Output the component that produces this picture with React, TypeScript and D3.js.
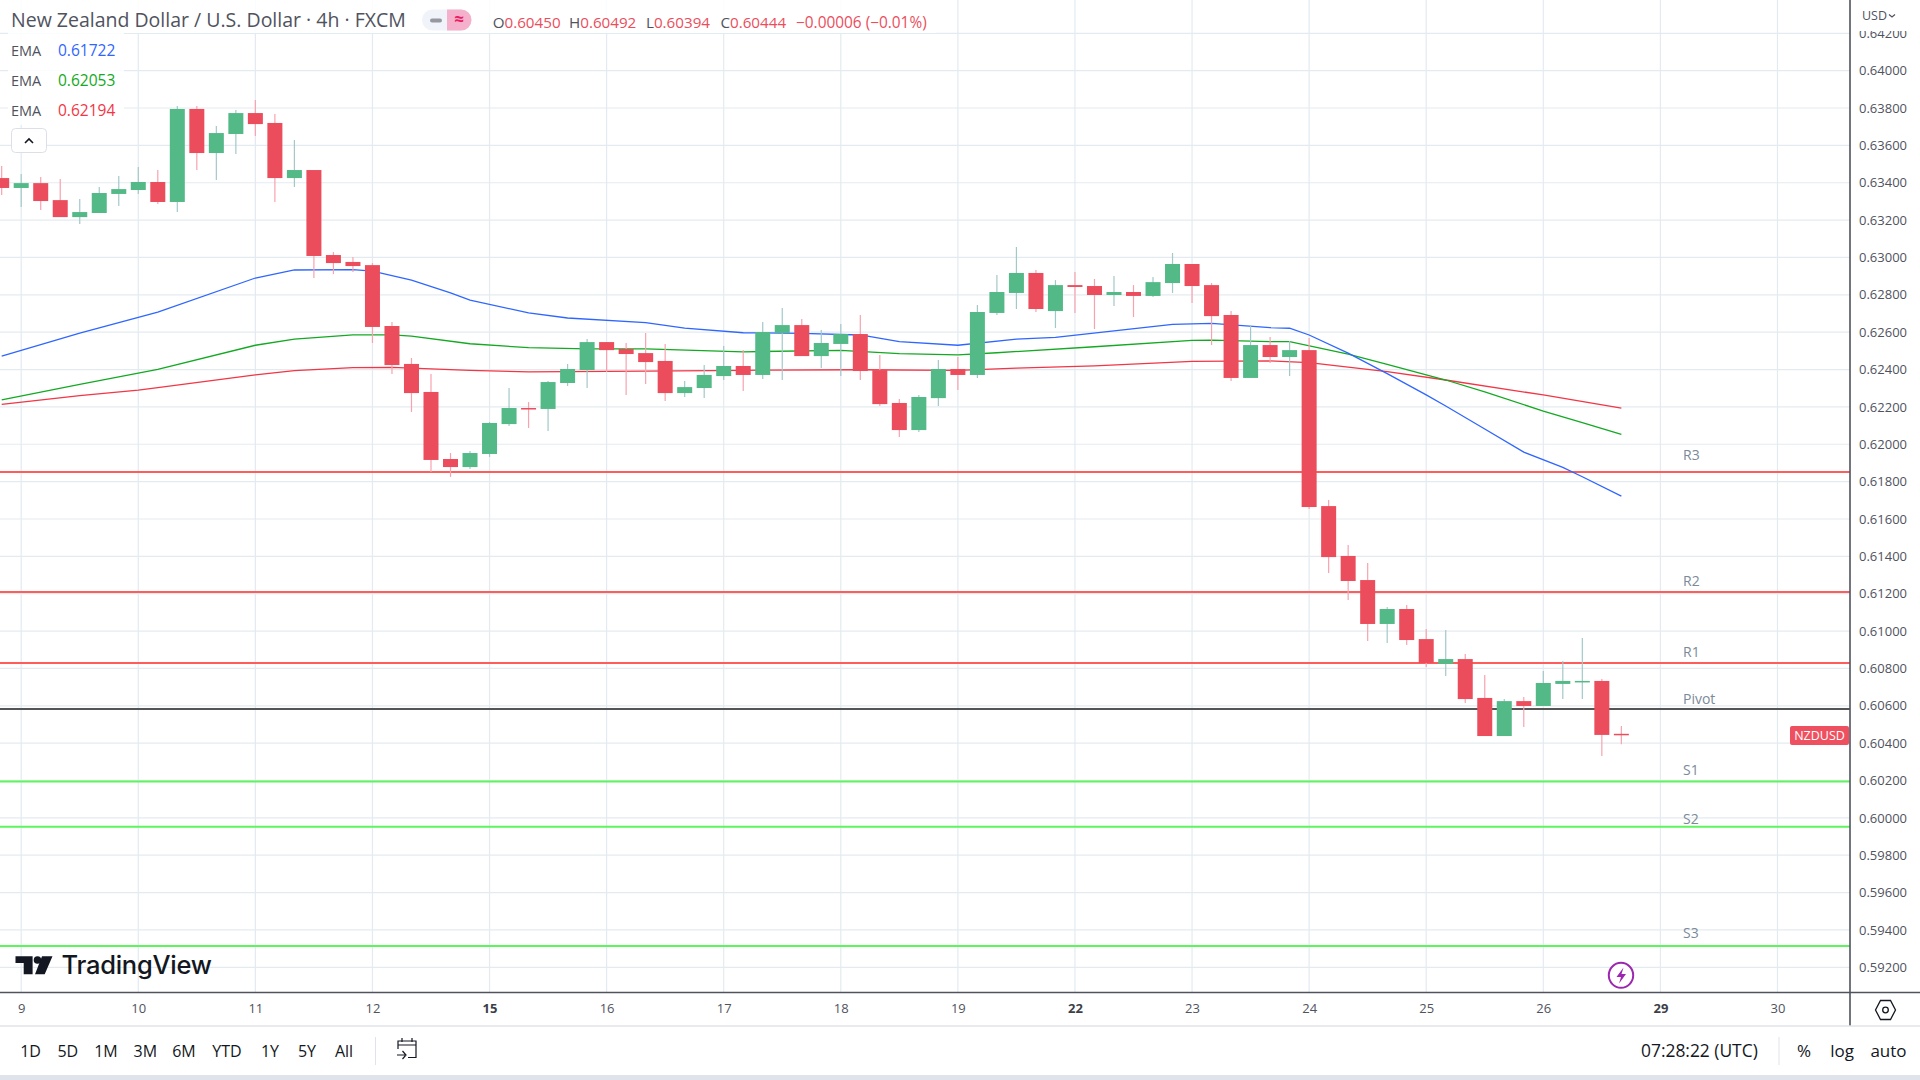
import React, { useEffect, useRef } from 'react';
import * as d3 from 'd3';

const firstBar = -1;

const opens = [
  0.63425, 0.63372, 0.63398, 0.63307, 0.63216, 0.63238, 0.6334, 0.63361, 0.63404, 0.63297, 0.63795, 0.63559,
  0.63661, 0.63773, 0.6372, 0.63425, 0.63468, 0.63013, 0.62976, 0.62959, 0.62633, 0.6243, 0.6228, 0.61921,
  0.61878, 0.61948, 0.62108, 0.62194, 0.62189, 0.62328, 0.62397, 0.62547, 0.6251, 0.62488, 0.62446, 0.62274,
  0.62301, 0.62365, 0.62419, 0.62371, 0.62595, 0.62638, 0.62472, 0.62537, 0.6259, 0.62397, 0.62221, 0.62076,
  0.62247, 0.62403, 0.62371, 0.62703, 0.6281, 0.62917, 0.62713, 0.62852, 0.62847, 0.62799, 0.62815, 0.62794,
  0.62863, 0.62965, 0.62852, 0.62692, 0.62355, 0.62531, 0.62467, 0.62504, 0.61669, 0.61402, 0.61273, 0.61038,
  0.61118, 0.60957, 0.60824, 0.6085, 0.60642, 0.60438, 0.60625, 0.60599, 0.60717, 0.60727, 0.60733, 0.6045,
];
const highs = [
  0.63489, 0.63447, 0.63431, 0.6342, 0.63313, 0.63377, 0.63436, 0.63484, 0.63468, 0.63811, 0.63811, 0.63704,
  0.63789, 0.63843, 0.63768, 0.63629, 0.63468, 0.63029, 0.63002, 0.6297, 0.62654, 0.62462, 0.62376, 0.61953,
  0.61964, 0.62119, 0.62301, 0.62226, 0.62338, 0.6243, 0.62563, 0.62547, 0.62542, 0.62595, 0.62537, 0.62338,
  0.62424, 0.62526, 0.62504, 0.62654, 0.62729, 0.6267, 0.62612, 0.62644, 0.62692, 0.62478, 0.62242, 0.62264,
  0.62451, 0.62467, 0.62745, 0.62906, 0.63056, 0.62933, 0.62879, 0.62922, 0.62885, 0.62901, 0.62852, 0.62895,
  0.63024, 0.62965, 0.62863, 0.62713, 0.62638, 0.62574, 0.62553, 0.62569, 0.61702, 0.61461, 0.61364, 0.61129,
  0.61139, 0.61011, 0.61006, 0.60877, 0.60765, 0.60636, 0.60647, 0.60786, 0.6084, 0.60963, 0.60743, 0.60492,
];
const lows = [
  0.63334, 0.6327, 0.63254, 0.63216, 0.63179, 0.63238, 0.63275, 0.6334, 0.63286, 0.63243, 0.63468, 0.63415,
  0.63554, 0.6365, 0.63297, 0.63377, 0.6289, 0.62911, 0.62922, 0.62542, 0.62376, 0.62173, 0.61851, 0.61825,
  0.61867, 0.61932, 0.62098, 0.62087, 0.62071, 0.62312, 0.62301, 0.62387, 0.62264, 0.62322, 0.62231, 0.62253,
  0.62247, 0.62344, 0.62285, 0.62349, 0.62344, 0.62472, 0.62408, 0.62365, 0.62344, 0.62205, 0.62039, 0.62066,
  0.62205, 0.6229, 0.62355, 0.62692, 0.62724, 0.62708, 0.62622, 0.62703, 0.62617, 0.6274, 0.62681, 0.62788,
  0.6281, 0.62756, 0.62531, 0.62338, 0.62355, 0.62435, 0.62365, 0.61653, 0.61311, 0.61166, 0.60947, 0.60936,
  0.60925, 0.60807, 0.60759, 0.60615, 0.60438, 0.60438, 0.60486, 0.60599, 0.60636, 0.60636, 0.60331, 0.60394,
];
const closes = [
  0.63372, 0.63398, 0.63302, 0.63216, 0.63243, 0.63345, 0.63366, 0.63404, 0.63297, 0.63795, 0.63559, 0.63666,
  0.63773, 0.63714, 0.63425, 0.63468, 0.63008, 0.6297, 0.62954, 0.62628, 0.62424, 0.62274, 0.61916, 0.61878,
  0.61953, 0.62114, 0.62194, 0.62189, 0.62333, 0.62403, 0.62547, 0.62504, 0.62483, 0.6244, 0.62274, 0.62306,
  0.62371, 0.62419, 0.62371, 0.62601, 0.62638, 0.62472, 0.62542, 0.6259, 0.62392, 0.62215, 0.62076, 0.62253,
  0.62403, 0.62371, 0.62708, 0.62815, 0.62917, 0.62724, 0.62852, 0.62842, 0.62799, 0.62815, 0.62794, 0.62868,
  0.62965, 0.62847, 0.62686, 0.62355, 0.62531, 0.62467, 0.62504, 0.61664, 0.61396, 0.61268, 0.61038, 0.61118,
  0.60952, 0.60829, 0.6085, 0.60636, 0.60438, 0.60625, 0.60599, 0.60722, 0.60733, 0.60733, 0.60444, 0.60444,
];

// ema lines, read at the bars where the slope changes
const blueBars = [-1, 3, 7, 12, 14, 17, 18, 20, 22, 23, 26, 28, 32, 34, 37, 40, 43, 45, 48, 51, 53, 59, 61, 64, 65, 66, 68, 70, 72, 73, 75, 77, 79, 80, 82];
const blueEma = [
  0.62472, 0.62595, 0.62708, 0.6289, 0.62933, 0.62935, 0.62927, 0.62879, 0.6281, 0.62772, 0.62703, 0.62676,
  0.62651, 0.62622, 0.62597, 0.62594, 0.62585, 0.62549, 0.6253, 0.62563, 0.62572, 0.62642, 0.62647, 0.62624,
  0.62621, 0.62585, 0.62488, 0.62378, 0.62264, 0.62205, 0.62082, 0.61958, 0.61876, 0.61826, 0.61722,
];
const greenBars = [-1, 3, 7, 12, 14, 17, 19, 20, 23, 26, 29, 32, 37, 42, 45, 48, 50, 55, 60, 61, 64, 65, 68, 70, 73, 75, 78, 80, 82];
const greenEma = [
  0.62238, 0.62321, 0.62401, 0.6253, 0.62563, 0.62586, 0.62586, 0.62579, 0.62538, 0.62517, 0.62511, 0.62511,
  0.62495, 0.62503, 0.62485, 0.62479, 0.6249, 0.62522, 0.62556, 0.62558, 0.62549, 0.62549, 0.62483, 0.62427,
  0.62344, 0.6228, 0.62178, 0.62116, 0.62053,
];
const redBars = [-1, 3, 6, 7, 12, 14, 17, 19, 23, 26, 32, 37, 43, 48, 51, 55, 60, 64, 66, 70, 73, 78, 82];
const redEma = [
  0.62214, 0.6226, 0.6229, 0.62303, 0.62371, 0.62394, 0.6241, 0.62412, 0.62396, 0.62387, 0.62392, 0.62396,
  0.62399, 0.62396, 0.62408, 0.6242, 0.62444, 0.62446, 0.62437, 0.62389, 0.62344, 0.62264, 0.62194,
];

const levelNames = ['R3', 'R2', 'R1', 'Pivot', 'S1', 'S2', 'S3'];
const levelValues = [0.61851, 0.61209, 0.60829, 0.60583, 0.60194, 0.59953, 0.59314];
const levelColors = ['#ff5c5c', '#ff5c5c', '#ff5c5c', '#555555', '#5cf55c', '#5cf55c', '#5cf55c'];
const levelLabelGap = [15.5, 9.5, 9.5, 8.5, 10, 6.5, 11.5];

const priceTicks = d3.range(0.592, 0.6421, 0.002).map((d) => +d.toFixed(3));
const dayBars = [0, 6, 12, 18, 24, 30, 36, 42, 48, 54, 60, 66, 72, 78, 84, 90];
const dayLabels = ['9', '10', '11', '12', '15', '16', '17', '18', '19', '22', '23', '24', '25', '26', '29', '30'];
const mondays = ['15', '22', '29'];

const rangeLabels = ['1D', '5D', '1M', '3M', '6M', 'YTD', '1Y', '5Y', 'All'];
const rangeCenters = [30.6, 67.8, 106, 145.3, 184, 227, 270, 307, 344];

const FONT = '"Open Sans", sans-serif';
const GRID = '#e3ebf1';
const UP = '#53b987';
const DOWN = '#eb4d5c';
const UP_WICK = '#a3c8c8';
const DOWN_WICK = '#f7a3af';

const W = 1920;
const H = 1080;
const plotRight = 1850;
const plotBottom = 992;

const x = d3.scaleLinear().domain([0, 78]).range([21.2, 1543.3]);
const y = d3.scaleLinear().domain([0.642, 0.592]).range([33.3, 967.3]);

const App: React.FC = () => {
  const yAxisRef = useRef<SVGGElement | null>(null);
  const xAxisRef = useRef<SVGGElement | null>(null);

  useEffect(() => {
    if (!yAxisRef.current || !xAxisRef.current) return;

    const yAxis = d3.axisRight(y).tickValues(priceTicks).tickFormat(d3.format('.5f') as any).tickSize(0).tickPadding(9);
    const yg = d3.select(yAxisRef.current).call(yAxis as any);
    yg.select('.domain').remove();
    yg.selectAll('text')
      .attr('font-family', FONT)
      .attr('font-size', 13)
      .attr('fill', '#50535e');

    const labelOf = d3.scaleOrdinal<number, string>().domain(dayBars).range(dayLabels);
    const xAxis = d3.axisBottom(x).tickValues(dayBars).tickFormat((d) => labelOf(d as number)).tickSize(0).tickPadding(12);
    const xg = d3.select(xAxisRef.current).call(xAxis as any);
    xg.select('.domain').remove();
    xg.selectAll<SVGTextElement, number>('text')
      .attr('font-family', FONT)
      .attr('font-size', 13)
      .attr('fill', (d) => (mondays.includes(labelOf(d)) ? '#3c3f49' : '#50535e'))
      .attr('font-weight', (d) => (mondays.includes(labelOf(d)) ? 700 : 400));
  }, []);

  const bars = opens.map((open, i) => ({
    bar: firstBar + i,
    open,
    high: highs[i],
    low: lows[i],
    close: closes[i],
  }));

  const emaLine = d3
    .line<{ bar: number; value: number }>()
    .x((d) => x(d.bar))
    .y((d) => y(d.value));
  const series = [
    { bars: redBars, values: redEma, color: '#f23645' },
    { bars: greenBars, values: greenEma, color: '#13a922' },
    { bars: blueBars, values: blueEma, color: '#2f66ff' },
  ];

  const bodyWidth = 15;

  return (
    <svg width={W} height={H} style={{ position: 'absolute', left: 0, top: 0, background: '#fff' }}>
      <defs>
        <clipPath id="price-clip">
          <rect x={0} y={31} width={70} height={plotBottom - 31} />
        </clipPath>
      </defs>

      {/* grid */}
      {priceTicks.map((t) => (
        <line key={t} x1={0} x2={plotRight} y1={y(t)} y2={y(t)} stroke={GRID} strokeWidth={1.2} />
      ))}
      {dayBars.map((b) => (
        <line key={b} x1={x(b)} x2={x(b)} y1={0} y2={plotBottom} stroke={GRID} strokeWidth={1.2} />
      ))}

      {/* pivot levels */}
      {levelValues.map((v, i) => (
        <g key={levelNames[i]}>
          <line x1={0} x2={plotRight} y1={y(v)} y2={y(v)} stroke={levelColors[i]} strokeWidth={2} />
          <text
            x={1683}
            y={y(v) - levelLabelGap[i]}
            dominantBaseline="middle"
            fontFamily={FONT}
            fontSize={14}
            fill="#7b8a99"
          >
            {levelNames[i]}
          </text>
        </g>
      ))}

      {/* ema */}
      {series.map((s) => (
        <path
          key={s.color}
          d={emaLine(s.bars.map((bar, i) => ({ bar, value: s.values[i] }))) || ''}
          fill="none"
          stroke={s.color}
          strokeWidth={1.3}
        />
      ))}

      {/* candles */}
      {bars.map((d) => {
        const up = d.close > d.open;
        const top = y(Math.max(d.open, d.close));
        const bottom = y(Math.min(d.open, d.close));
        return (
          <g key={d.bar}>
            <line x1={x(d.bar)} x2={x(d.bar)} y1={y(d.high)} y2={y(d.low)} stroke={up ? UP_WICK : DOWN_WICK} strokeWidth={1.2} />
            <rect
              x={x(d.bar) - bodyWidth / 2}
              y={top}
              width={bodyWidth}
              height={Math.max(bottom - top, 1.5)}
              fill={up ? UP : DOWN}
            />
          </g>
        );
      })}

      {/* header legend */}
      <rect x={8} y={0} width={928} height={33} fill="#fff" fillOpacity={0.85} />
      <rect x={8} y={33} width={116} height={92} fill="#fff" fillOpacity={0.85} />
      <text x={11} y={22} dominantBaseline="middle" fontFamily={FONT} fontSize={19.5} fill="#50535e">
        New Zealand Dollar / U.S. Dollar · 4h · FXCM
      </text>
      <rect x={422} y={9.5} width={49.5} height={21} rx={10.5} fill="#f0f3fa" />
      <path d="M447 9.5h14a10.5 10.5 0 0 1 0 21h-14z" fill="#f5b0cb" />
      <rect x={430} y={18.5} width={12} height={4} rx={2} fill="#9598a1" />
      <text x={459} y={20.5} textAnchor="middle" dominantBaseline="middle" fontFamily={FONT} fontSize={17} fontWeight={700} fill="#e91e63">
        ≈
      </text>
      {[
        ['O', '0.60450', 492.7],
        ['H', '0.60492', 569],
        ['L', '0.60394', 646],
        ['C', '0.60444', 720.4],
      ].map(([k, v, px]) => (
        <text key={k as string} x={px as number} y={23.5} dominantBaseline="middle" fontFamily={FONT} fontSize={15.2} fill={DOWN}>
          <tspan fill="#50535e">{k}</tspan>
          {v}
        </text>
      ))}
      <text x={796} y={23.5} dominantBaseline="middle" fontFamily={FONT} fontSize={15.4} fill={DOWN}>
        −0.00006 (−0.01%)
      </text>
      {[
        ['0.61722', '#2f66ff', 52],
        ['0.62053', '#13a922', 82],
        ['0.62194', '#f23645', 112],
      ].map(([v, c, py]) => (
        <g key={v as string}>
          <text x={11} y={py as number} dominantBaseline="middle" fontFamily={FONT} fontSize={14.5} fill="#50535e">
            EMA
          </text>
          <text x={58} y={py as number} dominantBaseline="middle" fontFamily={FONT} fontSize={15.5} fill={c as string}>
            {v}
          </text>
        </g>
      ))}
      <rect x={11.5} y={128.5} width={35} height={24} rx={4} fill="#fff" stroke="#dcdfe8" />
      <path d="M25 143l4-4 4 4" fill="none" stroke="#131722" strokeWidth={1.6} />

      {/* tradingview logo */}
      <path d="M15.5 956.2h17.1v18.1h-8.900v-11.400h-8.200z M42 956.200h10.500l-7.800 18.100h-9.700z" fill="#131722" />
      <circle cx={37.5} cy={960} r={3.8} fill="#131722" />
      <text x={61.5} y={974} fontFamily="Inter, sans-serif" fontSize={25.5} fontWeight={500} letterSpacing={-0.25} fill="#131722">
        TradingView
      </text>

      {/* snapshot bolt */}
      <ellipse cx={1621} cy={975.3} rx={12.2} ry={12.5} fill="#fff" stroke="#9c27b0" strokeWidth={2} />
      <path d="M1623.500 967.500l-7 9.500h4.500l-2 6.500 7-9.500h-4.500z" fill="#9c27b0" />

      {/* axes */}
      <rect x={plotRight} y={0} width={W - plotRight} height={plotBottom} fill="#fff" />
      <rect x={0} y={plotBottom} width={W} height={H - plotBottom} fill="#fff" />
      <g ref={yAxisRef} transform={`translate(${plotRight},0)`} clipPath="url(#price-clip)" />
      <g ref={xAxisRef} transform={`translate(0,${plotBottom})`} />
      <line x1={plotRight} x2={plotRight} y1={0} y2={1026} stroke="#50535e" strokeWidth={1.6} />
      <line x1={0} x2={W} y1={plotBottom + 0.5} y2={plotBottom + 0.5} stroke="#50535e" strokeWidth={1.4} />
      <line x1={0} x2={W} y1={1026} y2={1026} stroke="#e0e3eb" strokeWidth={1.4} />
      <rect x={0} y={1075} width={W} height={5} fill="#e0e3eb" />

      <text x={1862} y={17} dominantBaseline="middle" fontFamily={FONT} fontSize={12.5} fill="#50535e">
        USD
      </text>
      <path d="M1889 14.500l3 2.500 3-2.500" fill="none" stroke="#50535e" strokeWidth={1.2} />

      <rect x={1790} y={726} width={59} height={19} rx={2} fill="#ef5060" />
      <text x={1819.5} y={736.5} textAnchor="middle" dominantBaseline="middle" fontFamily={FONT} fontSize={12.5} fill="#fff">
        NZDUSD
      </text>

      <path d="M1880.500 1000.500h10l5 9.500-5 9.500h-10l-5-9.500z" fill="none" stroke="#131722" strokeWidth={1.3} />
      <circle cx={1885.500} cy={1010} r={2.800} fill="none" stroke="#131722" strokeWidth={1.3} />

      {/* bottom toolbar */}
      {rangeLabels.map((l, i) => (
        <text key={l} x={rangeCenters[i]} y={1052.5} textAnchor="middle" dominantBaseline="middle" fontFamily={FONT} fontSize={16} fill="#131722">
          {l}
        </text>
      ))}
      <line x1={375.500} x2={375.500} y1={1037} y2={1065} stroke="#e0e3eb" />
      <path d="M398 1049v-8h18v16.500h-8 M402 1038v4 M412 1038v4 M398 1045h18 M397 1055h8 M402.500 1051l3.500 4-3.500 4" fill="none" stroke="#131722" strokeWidth={1.2} />
      <text x={1641} y={1052.5} dominantBaseline="middle" fontFamily={FONT} fontSize={17.4} fill="#131722">
        07:28:22 (UTC)
      </text>
      <line x1={1779} x2={1779} y1={1037} y2={1065} stroke="#e0e3eb" />
      <text x={1804} y={1052.5} textAnchor="middle" dominantBaseline="middle" fontFamily={FONT} fontSize={17} fill="#131722">%</text>
      <text x={1842} y={1052.5} textAnchor="middle" dominantBaseline="middle" fontFamily={FONT} fontSize={17} fill="#131722">log</text>
      <text x={1888.500} y={1052.5} textAnchor="middle" dominantBaseline="middle" fontFamily={FONT} fontSize={17} fill="#131722">auto</text>
    </svg>
  );
};

export default App;
